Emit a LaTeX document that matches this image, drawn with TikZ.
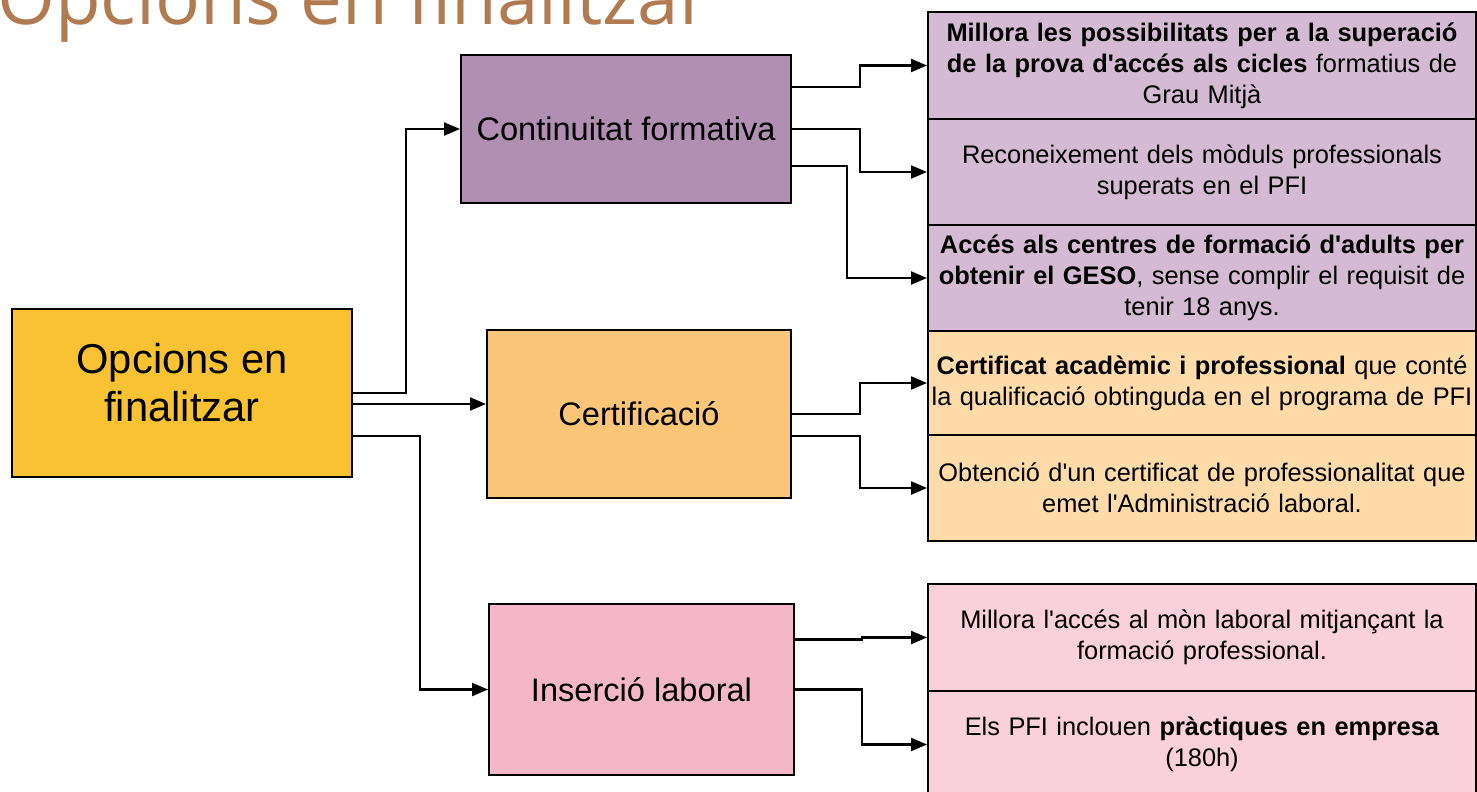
\documentclass[tikz,border=0pt]{standalone}
\usepackage{fontspec}
\usepackage{tikz}
\usetikzlibrary{arrows.meta}
\newfontfamily\lsans{Liberation Sans}
\newfontfamily\osans{Open Sans}
\definecolor{titlecol}{HTML}{B07B50}
\definecolor{mainfill}{HTML}{F9C232}
\definecolor{contfill}{HTML}{B18FB2}
\definecolor{certfill}{HTML}{FDC577}
\definecolor{insfill}{HTML}{F4B6C9}
\definecolor{contlight}{HTML}{D4BAD3}
\definecolor{certlight}{HTML}{FEDBA8}
\definecolor{inslight}{HTML}{F9D0DC}
\tikzset{
	box/.style={draw=black, line width=2pt, inner sep=0pt, align=center},
	mainbox/.style={box, fill=mainfill, minimum width=340pt, minimum height=168pt, font=\lsans\fontsize{41.7}{48}\selectfont},
	midbox/.style={box, minimum height=#1, font=\lsans\fontsize{32.6}{38}\selectfont},
	itembox/.style={box, fill=#1, text width=546pt, minimum width=548pt, minimum height=106pt, font=\lsans\fontsize{25.4}{31}\selectfont},
	conn/.style={line width=2.2pt, -{Triangle[length=16pt,width=13pt]}}
}
\begin{document}
\begin{tikzpicture}[x=1pt,y=-1pt]
	\useasboundingbox (0,0) rectangle (1477,792);
	\clip (0,0) rectangle (1477,792);
	
	\node[anchor=base west, text=titlecol, inner sep=0pt, font=\osans\fontsize{74.5}{80}\selectfont] (title) at (-3,25) {Opcions en finalitzar};
	
	\node[mainbox] (main) at (182,393) {Opcions en\\finalitzar\\[-26pt]};
	
	\node[midbox=148pt, fill=contfill, minimum width=330pt] (cont) at (626,129) {Continuitat formativa};
	\node[midbox=168pt, fill=certfill, minimum width=304pt] (cert) at (639,414) {Certificació};
	\node[midbox=171pt, fill=insfill, minimum width=305pt] (ins) at (641.5,689.5) {Inserció laboral};
	
	\node[itembox=contlight, minimum height=107pt] (r1) at (1202,65.5) {\textbf{Millora les possibilitats per a la superació}\\\textbf{de la prova d'accés als cicles} formatius de\\Grau Mitjà};
	\node[itembox=contlight] (r2) at (1202,172) {Reconeixement dels mòduls professionals\\superats en el PFI};
	\node[itembox=contlight] (r3) at (1202,278) {\textbf{Accés als centres de formació d'adults per}\\\textbf{obtenir el GESO}, sense complir el requisit de\\tenir 18 anys.};
	\node[itembox=certlight, minimum height=104pt] (r4) at (1202,383) {\textbf{Certificat acadèmic i professional} que conté\\la qualificació obtinguda en el programa de PFI};
	\node[itembox=certlight] (r5) at (1202,488) {Obtenció d'un certificat de professionalitat que\\emet l'Administració laboral.};
	\node[itembox=inslight, minimum height=107pt] (r6) at (1202,637.5) {Millora l'accés al mòn laboral mitjançant la\\formació professional.};
	\node[itembox=inslight, minimum height=107pt] (r7) at (1202,744.5) {Els PFI inclouen \textbf{pràctiques en empresa}\\(180h)};
	
	\draw[conn] (main.east) -- (406,393) |- (cont.west);
	\draw[conn] ([yshift=-11pt]main.east) -- ([yshift=-11pt]main.east -| cert.west);
	\draw[conn] ([yshift=-43pt]main.east) -- (420,436) |- (ins.west);
	
	\draw[conn] ([yshift=42pt]cont.east) -- (860,87) |- (r1.west);
	\draw[conn] (cont.east) -- (860,129) |- (r2.west);
	\draw[conn] ([yshift=-37pt]cont.east) -- (847,166) |- (r3.west);
	
	\draw[conn] (cert.east) -- (860,414) |- (r4.west);
	\draw[conn] ([yshift=-22pt]cert.east) -- (860,436) |- (r5.west);
	
	\draw[conn] ([yshift=50pt]ins.east) -- (862,639.5) |- (r6.west);
	\draw[conn] (ins.east) -- (862,689.5) |- (r7.west);
	
\end{tikzpicture}
\end{document}
